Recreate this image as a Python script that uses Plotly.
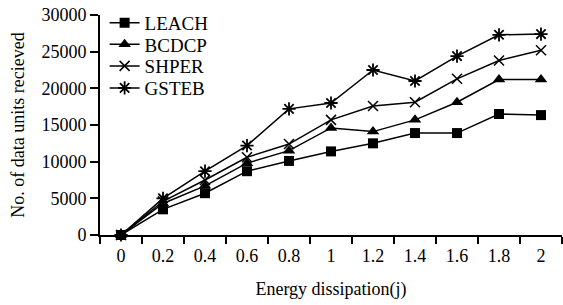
import plotly.graph_objects as go

x_labels = ["0", "0.2", "0.4", "0.6", "0.8", "1", "1.2", "1.4", "1.6", "1.8", "2"]
leach = [0, 3500, 5700, 8700, 10100, 11400, 12500, 13900, 13900, 16500, 16350]
bcdcp = [0, 4300, 6700, 9800, 11500, 14600, 14100, 15700, 18100, 21200, 21200]
shper = [0, 4600, 7500, 10600, 12400, 15700, 17600, 18100, 21300, 23800, 25200]
gsteb = [0, 5000, 8700, 12200, 17200, 18000, 22500, 21000, 24400, 27300, 27400]

series = [
    ("LEACH", leach, dict(symbol="square", size=10, color="black")),
    ("BCDCP", bcdcp, dict(symbol="triangle-up", size=11, color="black")),
    ("SHPER", shper, dict(symbol="x-thin-open", size=10, color="black", line=dict(width=1.5, color="black"))),
    ("GSTEB", gsteb, dict(symbol="asterisk-open", size=11, color="black", line=dict(width=1.8, color="black"))),
]

legend_ids = ["legend", "legend2", "legend3", "legend4"]
legend_y = [0.964, 0.866, 0.768, 0.668]

fig = go.Figure()
for (name, vals, marker), lid in zip(series, legend_ids):
    fig.add_trace(go.Scatter(x=x_labels, y=vals, name=name, mode="lines+markers",
                             line=dict(color="black", width=1.5), marker=marker, legend=lid,
                             cliponaxis=False))

font = dict(family="Liberation Serif, Times New Roman, serif", size=18, color="black")
legend_font = dict(family="Liberation Serif, serif", size=19, color="black")
legend_layout = {}
for lid, ly in zip(legend_ids, legend_y):
    legend_layout[lid] = dict(x=0.01, y=ly, xanchor="left", yanchor="middle",
                              bgcolor="rgba(0,0,0,0)", font=legend_font, itemwidth=30)

fig.update_layout(
    width=563, height=305,
    margin=dict(l=100, r=1, t=15, b=70),
    paper_bgcolor="white", plot_bgcolor="white",
    font=font,
    showlegend=True,
    xaxis=dict(type="category", range=[-0.5, len(x_labels) - 0.5], tickson="boundaries",
               ticks="outside", ticklen=7, tickwidth=2,
               tickcolor="black", showline=True, linecolor="black", linewidth=2,
               showgrid=False, zeroline=False, tickfont=font, ticklabelstandoff=3,
               title=dict(text="Energy dissipation(j)", standoff=18, font=font)),
    yaxis=dict(range=[0, 30000], dtick=5000, tickformat="d", ticks="outside", ticklen=8, tickwidth=2,
               tickcolor="black", showline=True, linecolor="black", linewidth=2,
               showgrid=False, zeroline=False, tickfont=font,
               title=dict(text="No. of data units recieved", standoff=12, font=font)),
    **legend_layout,
)
fig.write_html("out.html", config={"displayModeBar": False},
               post_script="document.body.style.margin='0';")
